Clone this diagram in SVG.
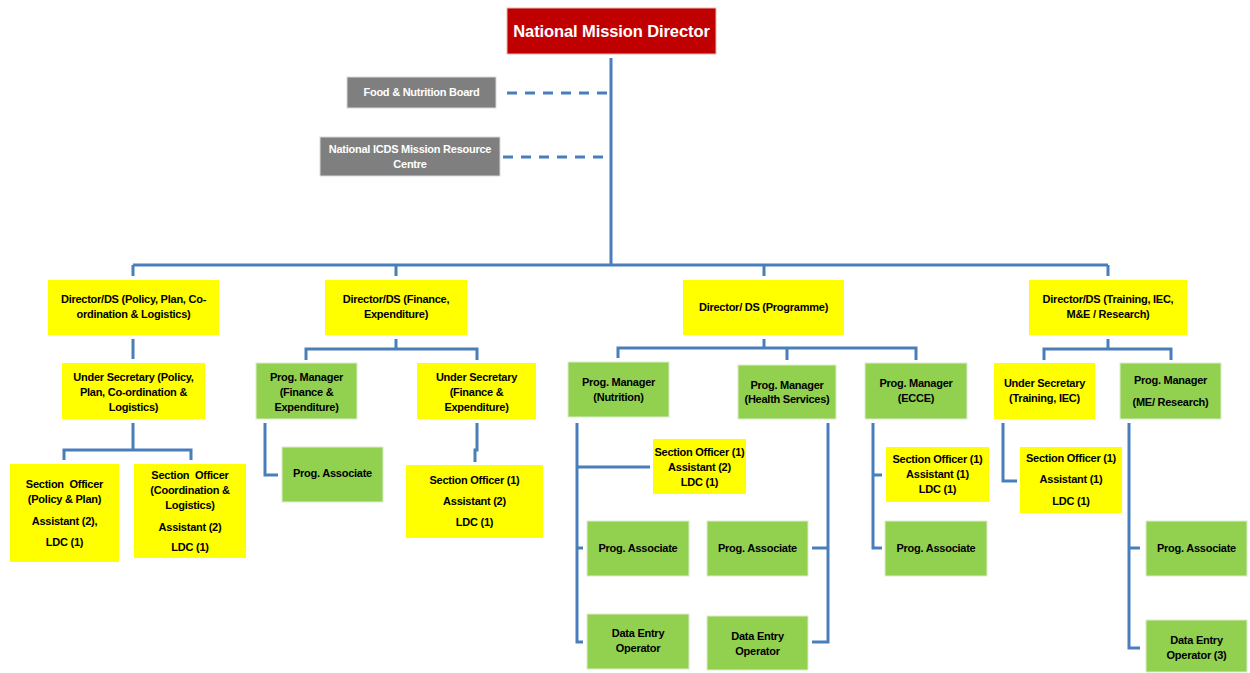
<svg xmlns="http://www.w3.org/2000/svg" width="1250" height="673" viewBox="0 0 1250 673">
<style>
text{font-family:"Liberation Sans",Arial,sans-serif;font-weight:bold;font-size:11px;letter-spacing:-0.25px;text-anchor:middle;fill:#000}
.y{fill:#FFFF00}
.g{fill:#92D050;stroke:#DDEBCC;stroke-width:1}
.gr{fill:#7F7F7F;stroke:#D9D9D9;stroke-width:1}
.w{fill:#fff}
.c{fill:none;stroke:#4A7EBB;stroke-width:3}
.d{fill:none;stroke:#4A7EBB;stroke-width:3;stroke-dasharray:10 8}
</style>
<g id="connectors">
<path class="c" d="M611 58V265M133 265H1108M133 265V276M396 265V276M764 265V276M1108 265V276"/>
<path class="d" d="M507 93H608M503 157H608"/>
<path class="c" d="M133 339V359"/>
<path class="c" d="M396 339V349M306 360V349H477V360"/>
<path class="c" d="M764 339V348M618 358V348H916V360M787 348V360"/>
<path class="c" d="M1108 339V349M1044 360V349H1171V360"/>
<path class="c" d="M133 423V450M64 460V450H191V460"/>
<path class="c" d="M265 423V475H278"/>
<path class="c" d="M477 423V450H475V462"/>
<path class="c" d="M577 423V642H583M577 467H650M577 548H583"/>
<path class="c" d="M828 423V642H812M828 548H812"/>
<path class="c" d="M873 423V548H882M873 475H882"/>
<path class="c" d="M1003 423V481H1017"/>
<path class="c" d="M1129 423V648H1140M1129 548H1140"/>
</g>
<g id="nmd"><rect x="507" y="8" width="209" height="46" fill="#C00000" stroke="#E6B8B7"/><text x="611.5" y="37" class="w" style="font-size:16.5px;letter-spacing:-0.1px">National Mission Director</text></g>
<g id="fnb"><rect class="gr" x="347" y="77" width="149" height="31"/><text x="421.5" y="96" class="w">Food &amp; Nutrition Board</text></g>
<g id="icds"><rect class="gr" x="320" y="137" width="180" height="39"/><text x="410" y="153" class="w">National ICDS Mission Resource</text><text x="410" y="168" class="w">Centre</text></g>
<g id="d1"><rect class="y" x="48" y="280" width="171" height="55"/><text x="133.5" y="303">Director/DS (Policy, Plan, Co-</text><text x="133.5" y="318">ordination &amp; Logistics)</text></g>
<g id="d2"><rect class="y" x="325" y="280" width="142" height="55"/><text x="396" y="303">Director/DS (Finance,</text><text x="396" y="318">Expenditure)</text></g>
<g id="d3"><rect class="y" x="683" y="280" width="161" height="55"/><text x="763.5" y="311">Director/ DS (Programme)</text></g>
<g id="d4"><rect class="y" x="1029" y="280" width="158" height="55"/><text x="1108" y="303">Director/DS (Training, IEC,</text><text x="1108" y="318">M&amp;E / Research)</text></g>
<g id="us1"><rect class="y" x="62" y="363" width="143" height="56"/><text x="133.5" y="381">Under Secretary (Policy,</text><text x="133.5" y="396">Plan, Co-ordination &amp;</text><text x="133.5" y="411">Logistics)</text></g>
<g id="pmfin"><rect class="g" x="256" y="363" width="101" height="56"/><text x="306.5" y="381">Prog. Manager</text><text x="306.5" y="396">(Finance &amp;</text><text x="306.5" y="411">Expenditure)</text></g>
<g id="usfin"><rect class="y" x="417" y="363" width="119" height="56"/><text x="476.5" y="381">Under Secretary</text><text x="476.5" y="396">(Finance &amp;</text><text x="476.5" y="411">Expenditure)</text></g>
<g id="pmnut"><rect class="g" x="568" y="362" width="101" height="55"/><text x="618.5" y="386">Prog. Manager</text><text x="618.5" y="401">(Nutrition)</text></g>
<g id="pmhealth"><rect class="g" x="738" y="365" width="98" height="54"/><text x="787" y="389">Prog. Manager</text><text x="787" y="403">(Health Services)</text></g>
<g id="pmecce"><rect class="g" x="865" y="363" width="102" height="56"/><text x="916" y="387">Prog. Manager</text><text x="916" y="402">(ECCE)</text></g>
<g id="ustrain"><rect class="y" x="994" y="363" width="101" height="56"/><text x="1044.5" y="387">Under Secretary</text><text x="1044.5" y="402">(Training, IEC)</text></g>
<g id="pmme"><rect class="g" x="1120" y="363" width="101" height="56"/><text x="1170.5" y="384">Prog. Manager</text><text x="1170.5" y="406">(ME/ Research)</text></g>
<g id="so1"><rect class="y" x="10" y="464" width="109" height="98"/><text x="64.5" y="488" xml:space="preserve">Section  Officer</text><text x="64.5" y="503">(Policy &amp; Plan)</text><text x="64.5" y="525">Assistant (2),</text><text x="64.5" y="546">LDC (1)</text></g>
<g id="so2"><rect class="y" x="134" y="464" width="112" height="94"/><text x="190" y="479" xml:space="preserve">Section  Officer</text><text x="190" y="494">(Coordination &amp;</text><text x="190" y="509">Logistics)</text><text x="190" y="531">Assistant (2)</text><text x="190" y="551">LDC (1)</text></g>
<g id="pafin"><rect class="g" x="282" y="447" width="101" height="55"/><text x="332.5" y="477">Prog. Associate</text></g>
<g id="sofin"><rect class="y" x="406" y="465" width="137" height="73"/><text x="474.5" y="484">Section Officer (1)</text><text x="474.5" y="505">Assistant (2)</text><text x="474.5" y="526">LDC (1)</text></g>
<g id="sonut"><rect class="y" x="653" y="439" width="93" height="55"/><text x="699.5" y="456">Section Officer (1)</text><text x="699.5" y="471">Assistant (2)</text><text x="699.5" y="486">LDC (1)</text></g>
<g id="panut"><rect class="g" x="587" y="521" width="102" height="55"/><text x="638" y="552">Prog. Associate</text></g>
<g id="deonut"><rect class="g" x="587" y="614" width="102" height="55"/><text x="638" y="637">Data Entry</text><text x="638" y="652">Operator</text></g>
<g id="pahealth"><rect class="g" x="707" y="521" width="101" height="55"/><text x="757.5" y="552">Prog. Associate</text></g>
<g id="deohealth"><rect class="g" x="707" y="616" width="101" height="54"/><text x="757.5" y="640">Data Entry</text><text x="757.5" y="655">Operator</text></g>
<g id="soecce"><rect class="y" x="886" y="447" width="103" height="55"/><text x="937.5" y="463">Section Officer (1)</text><text x="937.5" y="478">Assistant (1)</text><text x="937.5" y="493">LDC (1)</text></g>
<g id="paecce"><rect class="g" x="885" y="521" width="102" height="55"/><text x="936" y="552">Prog. Associate</text></g>
<g id="sotrain"><rect class="y" x="1020" y="447" width="102" height="66"/><text x="1071" y="462">Section Officer (1)</text><text x="1071" y="483">Assistant (1)</text><text x="1071" y="505">LDC (1)</text></g>
<g id="pame"><rect class="g" x="1146" y="521" width="101" height="55"/><text x="1196.5" y="552">Prog. Associate</text></g>
<g id="deome"><rect class="g" x="1146" y="620" width="101" height="52"/><text x="1196.5" y="644">Data Entry</text><text x="1196.5" y="659">Operator (3)</text></g>
</svg>
